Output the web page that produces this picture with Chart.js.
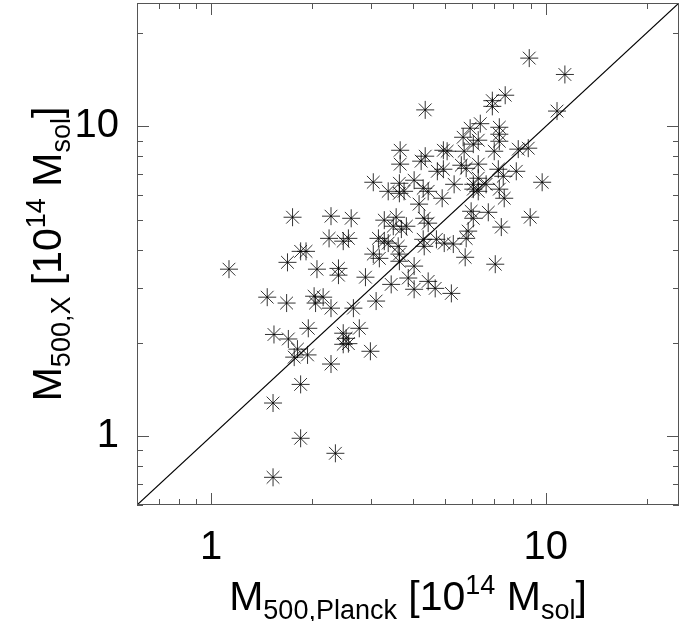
<!DOCTYPE html>
<html>
<head>
<meta charset="utf-8">
<script src="https://cdn.jsdelivr.net/npm/chart.js@4.4.0/dist/chart.umd.min.js"></script>
<style>
  html, body { margin: 0; padding: 0; background: #fff; }
</style>
</head>
<body>
<canvas id="grafico" width="685" height="621"></canvas>
<script>
// Masas M500 (10^14 Msol): estimación Planck vs. rayos X
const masaPlanck = [
    8.92, 11.4, 7.56, 6.92, 6.92, 4.36, 10.8, 6.37, 7.26, 5.94,
    7.26, 5.66, 6.28, 6.07, 7.26, 3.67, 4.94, 5.07, 5.70, 7.01,
    8.27, 8.86, 4.36, 4.24, 3.67, 5.59, 5.78, 6.28, 4.94, 4.74,
    7.21, 8.16, 7.46, 6.28, 4.04, 3.05, 3.65, 9.75, 5.32, 6.07,
    6.63, 4.30, 3.38, 3.65, 3.77, 4.45, 4.90, 6.07, 6.28, 7.26,
    7.51, 4.18, 6.73, 5.98, 1.75, 2.28, 2.62, 3.29, 3.57, 4.33,
    4.45, 6.07, 8.98, 7.36, 3.83, 3.70, 3.50, 5.86, 5.78, 2.25,
    2.48, 2.57, 3.16, 3.29, 3.38, 3.62, 4.30, 4.33, 4.71, 4.97,
    5.29, 1.85, 1.92, 3.05, 3.18, 3.65, 3.65, 5.74, 7.06, 1.69,
    1.13, 2.07, 2.40, 2.40, 2.89, 4.04, 3.88, 4.45, 3.45, 4.04,
    4.67, 5.22, 3.11, 1.47, 1.68, 2.03, 2.16, 2.05, 2.28, 2.66,
    1.95, 2.77, 1.54, 1.70, 2.48, 2.53, 2.48, 2.57, 2.99, 1.81,
    1.77, 1.94, 2.28, 1.85, 1.53, 1.85, 2.35, 1.53
];
const masaX = [
    16.6, 14.7, 12.6, 12.1, 11.6, 11.3, 11.2, 10.2, 9.93, 9.86,
    9.43, 9.22, 9.02, 8.76, 8.95, 8.37, 8.37, 8.31, 8.31, 8.31,
    8.44, 8.50, 8.01, 7.72, 7.55, 7.49, 7.32, 7.55, 7.27, 7.16,
    7.27, 7.16, 6.90, 6.80, 6.70, 6.60, 6.55, 6.60, 6.50, 6.50,
    6.50, 6.31, 6.17, 6.08, 6.17, 6.17, 5.86, 6.27, 6.17, 6.27,
    5.86, 5.61, 5.28, 5.32, 5.09, 5.13, 5.05, 4.98, 5.09, 5.05,
    4.87, 5.05, 5.09, 4.73, 4.76, 4.66, 4.76, 4.59, 4.35, 4.35,
    4.26, 4.35, 4.35, 4.26, 4.20, 4.10, 4.32, 4.10, 4.32, 4.20,
    4.17, 3.95, 3.95, 3.87, 3.75, 3.87, 3.67, 3.78, 3.59, 3.64,
    3.46, 3.46, 3.48, 3.31, 3.26, 3.54, 3.24, 3.16, 3.09, 2.98,
    3.00, 2.89, 2.73, 2.81, 2.69, 2.83, 2.81, 2.69, 2.59, 2.59,
    2.23, 2.23, 2.13, 2.06, 2.15, 2.07, 1.98, 1.99, 1.88, 1.91,
    1.80, 1.83, 1.71, 1.47, 1.28, 0.985, 0.881, 0.737
];

// Rango de los ejes y marcas
const ejeMin = 0.6;
const ejeMax = 25;
const ticksMayores = [1, 10];
const ticksMenores = [0.6, 0.7, 0.8, 0.9, 2, 3, 4, 5, 6, 7, 8, 9, 20];
const fuente = '"Liberation Sans", Arial, Helvetica, sans-serif';

// Títulos con subíndices / superíndices: [texto, tipo]
const tituloX = [['M', 'n'], ['500,Planck', 'sub'], [' [10', 'n'], ['14', 'sup'], [' M', 'n'], ['sol', 'sub'], [']', 'n']];
const tituloY = [['M', 'n'], ['500,X', 'sub'], [' [10', 'n'], ['14', 'sup'], [' M', 'n'], ['sol', 'sub'], [']', 'n']];

const puntos = masaPlanck.map((v, i) => ({ x: v, y: masaX[i] }));
const diagonal = [{ x: ejeMin, y: ejeMin }, { x: ejeMax, y: ejeMax }];

function esMayor(v) {
    return ticksMayores.some(m => Math.abs(v - m) < 1e-6);
}

// Escribe un título con tamaños mixtos, centrado en (cx, cy)
function escribirTitulo(ctx, partes, cx, cy, girado) {
    const grande = 41, chico = 27;
    let total = 0;
    const medidas = partes.map(p => {
        ctx.font = (p[1] === 'n' ? grande : chico) + 'px ' + fuente;
        const w = ctx.measureText(p[0]).width;
        total += w;
        return w;
    });
    ctx.save();
    ctx.translate(cx, cy);
    if (girado) ctx.rotate(-Math.PI / 2);
    ctx.fillStyle = '#000';
    ctx.textBaseline = 'alphabetic';
    let x = -total / 2;
    partes.forEach((p, i) => {
        let dy = 0;
        if (p[1] === 'sub') dy = 9;
        if (p[1] === 'sup') dy = -16;
        ctx.font = (p[1] === 'n' ? grande : chico) + 'px ' + fuente;
        ctx.fillText(p[0], x, 15 + dy);
        x += medidas[i];
    });
    ctx.restore();
}

// Marco con marcas hacia adentro en los cuatro lados + títulos
const marcoEjes = {
    id: 'marcoEjes',
    afterDraw(chart) {
        const ctx = chart.ctx;
        const a = chart.chartArea;
        const ex = chart.scales.x, ey = chart.scales.y;
        ctx.save();
        ctx.strokeStyle = '#555';
        ctx.lineWidth = 1;
        ctx.strokeRect(a.left + 0.5, a.top + 0.5, a.right - a.left - 1, a.bottom - a.top - 1);
        ctx.beginPath();
        ticksMayores.concat(ticksMenores).forEach(v => {
            const largo = esMayor(v) ? 12 : 6;
            const px = Math.round(ex.getPixelForValue(v)) + 0.5;
            const py = Math.round(ey.getPixelForValue(v)) + 0.5;
            ctx.moveTo(px, a.bottom); ctx.lineTo(px, a.bottom - largo);
            ctx.moveTo(px, a.top); ctx.lineTo(px, a.top + largo);
            ctx.moveTo(a.left, py); ctx.lineTo(a.left + largo, py);
            ctx.moveTo(a.right, py); ctx.lineTo(a.right - largo, py);
        });
        ctx.stroke();
        ctx.restore();

        escribirTitulo(ctx, tituloX, (a.left + a.right) / 2, 595, false);
        escribirTitulo(ctx, tituloY, 46, (a.top + a.bottom) / 2, true);
    }
};

const opcionesTicks = {
    autoSkip: false,
    maxRotation: 0,
    color: '#000',
    font: { family: fuente, size: 40 },
    callback: v => esMayor(v) ? String(Math.round(v)) : ''
};

new Chart(document.getElementById('grafico'), {
    type: 'scatter',
    data: {
        datasets: [{
            data: puntos,
            pointStyle: 'star',
            pointRadius: 9,
            pointHoverRadius: 9,
            borderColor: 'rgba(0, 0, 0, 0.8)',
            borderWidth: 1,
            backgroundColor: 'rgba(0, 0, 0, 0)'
        }, {
            data: diagonal,
            showLine: true,
            borderColor: '#000',
            borderWidth: 1.2,
            pointRadius: 0
        }]
    },
    options: {
        responsive: false,
        animation: false,
        devicePixelRatio: 1,
        layout: { autoPadding: false, padding: { top: 3, right: 6, left: 0, bottom: 0 } },
        plugins: { legend: { display: false }, tooltip: { enabled: false } },
        scales: {
            x: {
                type: 'logarithmic',
                min: ejeMin,
                max: ejeMax,
                grid: { display: false, drawTicks: false },
                border: { display: false },
                ticks: Object.assign({ padding: 19 }, opcionesTicks),
                afterFit: s => {
                    s.height = 116;
                    s.paddingLeft = 0;
                    s.paddingRight = 0;
                }
            },
            y: {
                type: 'logarithmic',
                min: ejeMin,
                max: ejeMax,
                grid: { display: false, drawTicks: false },
                border: { display: false },
                ticks: Object.assign({ padding: 18 }, opcionesTicks),
                afterFit: s => {
                    s.width = 137;
                    s.paddingTop = 0;
                    s.paddingBottom = 0;
                }
            }
        }
    },
    plugins: [marcoEjes]
});
</script>
</body>
</html>
